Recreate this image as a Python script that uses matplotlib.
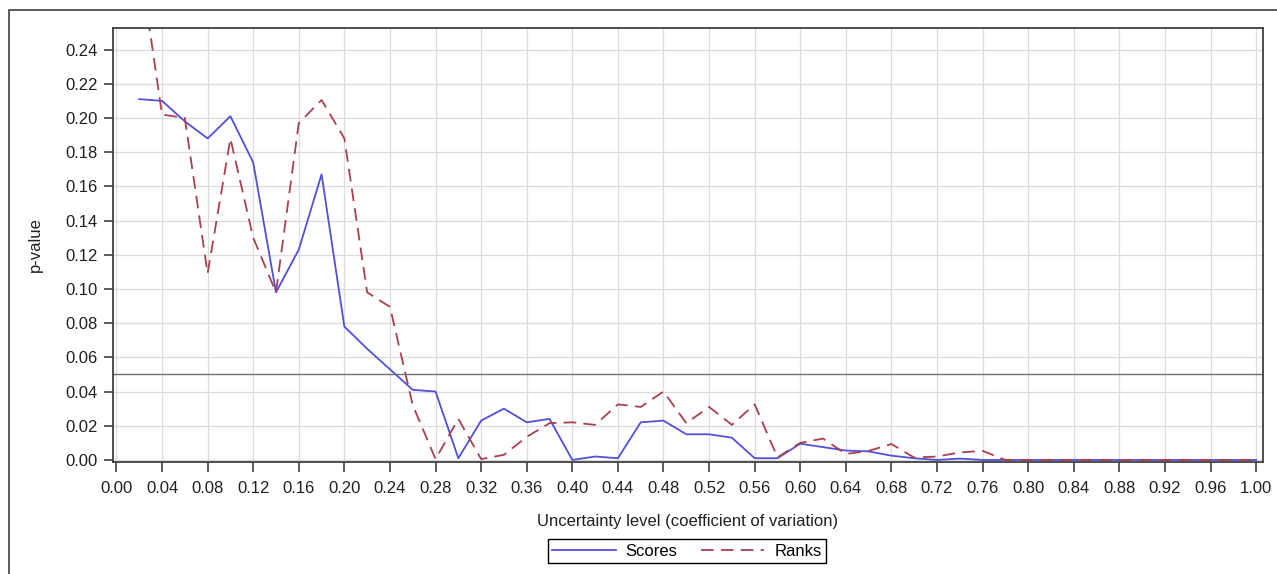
import numpy as np
import matplotlib
matplotlib.use("Agg")
import matplotlib.pyplot as plt
from matplotlib.patches import Rectangle

plt.rcParams['font.family'] = ['Liberation Sans', 'DejaVu Sans']
plt.rcParams['font.size'] = 12

# uncertainty levels (coefficient of variation)
cv = [round(0.02 * i, 2) for i in range(1, 51)]

scores = [0.211, 0.210, 0.198, 0.188, 0.201, 0.174, 0.098, 0.123, 0.167, 0.078,
          0.065, 0.053, 0.041, 0.040, 0.001, 0.023, 0.030, 0.022, 0.024, 0.000,
          0.002, 0.001, 0.022, 0.023, 0.015, 0.015, 0.013, 0.001, 0.001, 0.0095,
          0.0075, 0.0055, 0.005, 0.0025, 0.001, 0.000, 0.0008, 0.000, 0.000, 0.000,
          0.000, 0.000, 0.000, 0.000, 0.000, 0.000, 0.000, 0.000, 0.000, 0.000]

ranks = [0.294, 0.202, 0.200, 0.109, 0.188, 0.130, 0.098, 0.197, 0.2105, 0.188,
         0.098, 0.0895, 0.032, 0.0005, 0.024, 0.0005, 0.003, 0.0135, 0.0215, 0.022,
         0.0205, 0.0325, 0.031, 0.040, 0.0215, 0.031, 0.0205, 0.0325, 0.0015, 0.010,
         0.0125, 0.0035, 0.0053, 0.0093, 0.0014, 0.002, 0.0044, 0.0053, 0.000, 0.000,
         0.000, 0.000, 0.000, 0.000, 0.000, 0.000, 0.000, 0.000, 0.000, 0.000]

threshold = 0.05

W, H = 1277, 574
fig = plt.figure(figsize=(W / 100, H / 100), dpi=100)
ax = fig.add_axes([113 / W, 1 - 462 / H, 1150 / W, 434 / H])

# outer frame of the graph area
fig.patches.append(Rectangle((9 / W, -0.05), 1.1, 1 - 10 / H + 0.05,
                             transform=fig.transFigure, fill=False,
                             edgecolor='#404040', linewidth=1.2))

ax.plot(cv, scores, color='#5050dc', linewidth=1.3, label='Scores')
ax.plot(cv, ranks, color='#a8404f', linewidth=1.3, linestyle=(0, (7, 4)), label='Ranks')
ax.axhline(threshold, color='#707070', linewidth=1.0)

ax.set_xlim(-0.003, 1.006)
ax.set_ylim(-0.0012, 0.2526)
ax.set_xticks(np.arange(0, 1.0001, 0.04))
ax.set_yticks(np.arange(0, 0.2401, 0.02))
ax.xaxis.set_major_formatter(matplotlib.ticker.FormatStrFormatter('%.2f'))
ax.yaxis.set_major_formatter(matplotlib.ticker.FormatStrFormatter('%.2f'))
ax.tick_params(direction='out', width=1.1, color='#303030',
               labelsize=12, labelcolor='#202020')
ax.tick_params(axis='x', length=7, pad=7)
ax.tick_params(axis='y', length=6.5, pad=4.5)
ax.grid(True, color='#dcdcdc', linewidth=0.9)
ax.set_axisbelow(True)
for s in ax.spines.values():
    s.set_color('#404040')
    s.set_linewidth(1.3)

ax.set_xlabel('Uncertainty level (coefficient of variation)', color='#202020')
ax.xaxis.set_label_coords(0.5, -0.12)
ax.set_ylabel('p-value', color='#202020')
ax.yaxis.set_label_coords(-0.061, 0.5)

leg = fig.legend(loc='center', bbox_to_anchor=(687 / W, 1 - 551 / H), ncol=2,
                 fancybox=False, edgecolor='black', framealpha=1,
                 handlelength=3.8, columnspacing=1.4, handletextpad=0.6,
                 borderpad=0.25, fontsize=12)
leg.get_frame().set_linewidth(1.0)

fig.savefig('out.png', dpi=100)
